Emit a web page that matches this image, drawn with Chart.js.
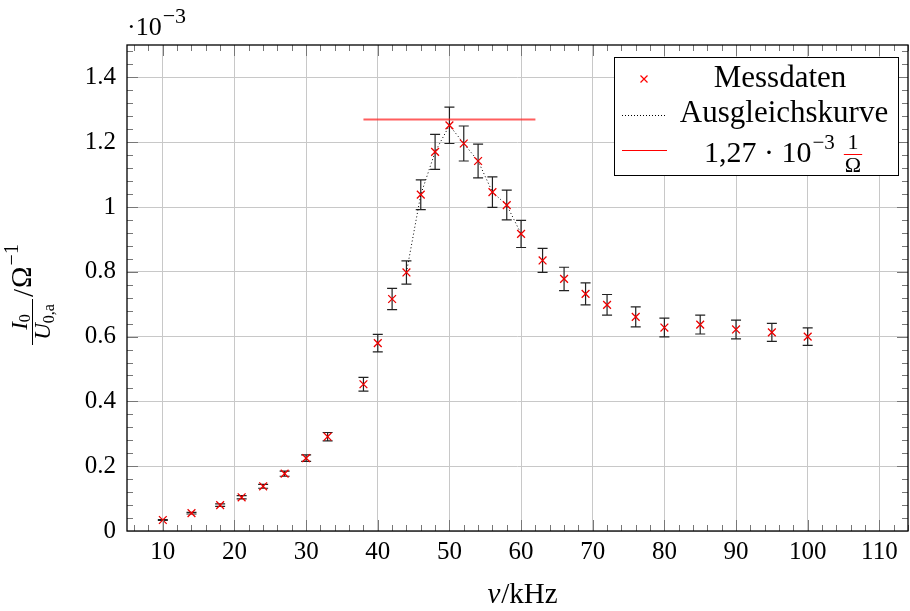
<!DOCTYPE html>
<html>
<head>
<meta charset="UTF-8">
<title>Resonanzkurve</title>
<script src="https://cdn.jsdelivr.net/npm/chart.js"></script>
<style>
    body { margin: 0; background: #fff; }
    #chart { display: block; }
</style>
</head>
<body>
<canvas id="chart" width="910" height="611"></canvas>
<script>
    // Messwerte (Strom in 10^-3 1/Ohm)
    const frequencies = [10, 14, 18, 21, 24, 27, 30, 33, 38, 40, 42, 44, 46, 48, 50, 52, 54, 56, 58, 60, 63, 66, 69, 72, 76, 80, 85, 90, 95, 100];
    const currents = [0.034, 0.055, 0.080, 0.104, 0.138, 0.177, 0.225, 0.291, 0.453, 0.580, 0.716, 0.798, 1.038, 1.170, 1.252, 1.196, 1.142, 1.046, 1.006, 0.917, 0.835, 0.778, 0.732, 0.698, 0.661, 0.628, 0.637, 0.622, 0.613, 0.600];
    const currentErrors = [0.0015, 0.0025, 0.004, 0.005, 0.006, 0.008, 0.010, 0.013, 0.021, 0.027, 0.033, 0.036, 0.046, 0.054, 0.056, 0.054, 0.052, 0.047, 0.046, 0.042, 0.037, 0.036, 0.034, 0.032, 0.031, 0.029, 0.029, 0.029, 0.028, 0.027];

    // Ausgleichskurve
    const fitFrequencies = [44, 46, 48, 50, 52, 54, 56, 58, 60];
    const fitCurrents = [0.798, 1.038, 1.170, 1.252, 1.196, 1.142, 1.046, 1.006, 0.917];

    // Maximum-Linie
    const maxFrequencies = [38, 62];
    const maxCurrents = [1.27, 1.27];

    const xTicks = [10, 20, 30, 40, 50, 60, 70, 80, 90, 100, 110];
    const yTicks = [0, 0.2, 0.4, 0.6, 0.8, 1.0, 1.2, 1.4];

    const SERIF = '"Liberation Serif", "Times New Roman", serif';
    const f = (size, style) => (style ? style + ' ' : '') + size + 'px ' + SERIF;

    function text(ctx, t, x, y, font, align) {
        ctx.font = font;
        ctx.textAlign = align || 'left';
        ctx.textBaseline = 'alphabetic';
        ctx.fillText(t, x, y);
        return ctx.measureText(t).width;
    }
    function width(ctx, t, font) {
        ctx.font = font;
        return ctx.measureText(t).width;
    }

    const errorBars = {
        id: 'errorBars',
        beforeDatasetsDraw(chart) {
            const ctx = chart.ctx, xs = chart.scales.x, ys = chart.scales.y;
            ctx.save();
            ctx.strokeStyle = '#222';
            ctx.lineWidth = 1.2;
            frequencies.forEach((fr, i) => {
                const px = xs.getPixelForValue(fr);
                const top = ys.getPixelForValue(currents[i] + currentErrors[i]);
                const bot = ys.getPixelForValue(currents[i] - currentErrors[i]);
                ctx.beginPath();
                ctx.moveTo(px, top); ctx.lineTo(px, bot);
                ctx.moveTo(px - 5, top); ctx.lineTo(px + 5, top);
                ctx.moveTo(px - 5, bot); ctx.lineTo(px + 5, bot);
                ctx.stroke();
            });
            ctx.restore();
        }
    };

    const frameAndTicks = {
        id: 'frameAndTicks',
        afterDatasetsDraw(chart) {
            const ctx = chart.ctx, a = chart.chartArea, xs = chart.scales.x, ys = chart.scales.y;
            ctx.save();
            ctx.lineWidth = 1;
            // kleine Striche innen, alle vier Seiten
            ctx.strokeStyle = '#777';
            ctx.beginPath();
            for (let v = 6; v <= 114; v += 2) {
                const px = Math.round(xs.getPixelForValue(v)) + 0.5;
                const len = v % 10 === 0 ? 11 : 6;
                ctx.moveTo(px, a.bottom); ctx.lineTo(px, a.bottom - len);
                ctx.moveTo(px, a.top); ctx.lineTo(px, a.top + len);
            }
            for (let k = 1; k <= 37; k++) {
                const v = k * 0.04;
                const py = Math.round(ys.getPixelForValue(v)) + 0.5;
                const len = k % 5 === 0 ? 11 : 6;
                ctx.moveTo(a.left, py); ctx.lineTo(a.left + len, py);
                ctx.moveTo(a.right, py); ctx.lineTo(a.right - len, py);
            }
            ctx.stroke();
            ctx.strokeStyle = '#000';
            ctx.lineWidth = 1.3;
            ctx.strokeRect(a.left, a.top, a.right - a.left, a.bottom - a.top);
            ctx.restore();
        },
        afterDraw(chart) {
            const ctx = chart.ctx;
            ctx.save();
            ctx.fillStyle = '#000';

            // Faktor oben links
            let x = 127;
            x += text(ctx, '\u00b710', x, 35, f(26));
            text(ctx, '\u22123', x + 1, 23, f(22));

            // x-Achsenbeschriftung
            const wNu = width(ctx, '\u03bd', f(29, 'italic'));
            const wRest = width(ctx, '/kHz', f(29));
            let sx = 522 - (wNu + wRest) / 2;
            sx += text(ctx, '\u03bd', sx, 603, f(29, 'italic'));
            text(ctx, '/kHz', sx + 1, 603, f(29));

            // y-Achsenbeschriftung (gedreht)
            ctx.rotate(-Math.PI / 2);
            // Bildschirm (sx, sy) -> gedreht (-sy, sx)
            const fracBottom = 345, fracTop = 299;
            const fracMid = (fracBottom + fracTop) / 2;
            const wI = width(ctx, 'I', f(23, 'italic')), w0 = width(ctx, '0', f(16));
            let r = -fracMid - (wI + w0) / 2;
            r += text(ctx, 'I', r, 27, f(23, 'italic'));
            text(ctx, '0', r, 30, f(16));
            const wU = width(ctx, 'U', f(23, 'italic')), wSub = width(ctx, '0,a', f(16));
            r = -fracMid - (wU + wSub) / 2;
            r += text(ctx, 'U', r, 50, f(23, 'italic'));
            text(ctx, '0,a', r, 54, f(16));
            ctx.lineWidth = 1;
            ctx.beginPath();
            ctx.moveTo(-fracBottom, 32.5); ctx.lineTo(-fracTop, 32.5);
            ctx.stroke();
            r = -fracTop + 2;
            r += text(ctx, '/', r, 33, f(29));
            r += text(ctx, '\u03a9', r + 1, 31, f(29)) + 1;
            text(ctx, '\u22121', r + 1, 18, f(20));
            ctx.setTransform(1, 0, 0, 1, 0, 0);

            // Legende
            ctx.fillStyle = '#fff';
            ctx.fillRect(614, 57, 285, 119);
            ctx.strokeStyle = '#000';
            ctx.lineWidth = 1;
            ctx.strokeRect(614.5, 57.5, 284, 118);

            ctx.strokeStyle = 'red';
            ctx.lineWidth = 1.2;
            ctx.beginPath();
            ctx.moveTo(640.5, 75.5); ctx.lineTo(647.5, 82.5);
            ctx.moveTo(647.5, 75.5); ctx.lineTo(640.5, 82.5);
            ctx.stroke();

            ctx.strokeStyle = '#000';
            ctx.lineWidth = 1;
            ctx.setLineDash([1, 2]);
            ctx.beginPath();
            ctx.moveTo(622, 115.5); ctx.lineTo(667, 115.5);
            ctx.stroke();
            ctx.setLineDash([]);

            ctx.strokeStyle = 'red';
            ctx.beginPath();
            ctx.moveTo(622, 150.5); ctx.lineTo(667, 150.5);
            ctx.stroke();

            ctx.fillStyle = '#000';
            text(ctx, 'Messdaten', 780, 87, f(31), 'center');
            text(ctx, 'Ausgleichskurve', 784, 122, f(31), 'center');
            let lx = 704;
            lx += text(ctx, '1,27 \u00b7 10', lx, 162, f(30));
            lx += text(ctx, '\u22123', lx + 1, 149, f(21)) + 10;
            const w1 = width(ctx, '1', f(22)), wO = width(ctx, '\u03a9', f(22));
            const wf = Math.max(w1, wO) + 2;
            text(ctx, '1', lx + wf / 2, 149, f(22), 'center');
            text(ctx, '\u03a9', lx + wf / 2, 172, f(22), 'center');
            ctx.lineWidth = 1;
            ctx.beginPath();
            ctx.moveTo(lx, 154.5); ctx.lineTo(lx + wf, 154.5);
            ctx.stroke();
            ctx.restore();
        }
    };

    new Chart(document.getElementById('chart'), {
        type: 'scatter',
        data: {
            datasets: [{
                label: 'Messdaten',
                data: frequencies.map((fr, i) => ({ x: fr, y: currents[i] })),
                pointStyle: 'crossRot',
                pointRadius: 5.5,
                pointBorderWidth: 1.3,
                borderColor: '#e00',
                backgroundColor: '#e00',
                showLine: false
            }, {
                label: 'Ausgleichskurve',
                data: fitFrequencies.map((fr, i) => ({ x: fr, y: fitCurrents[i] })),
                showLine: true,
                pointRadius: 0,
                borderColor: '#000',
                borderWidth: 1,
                borderDash: [1, 2.5]
            }, {
                label: '1,27 \u00b7 10\u207b\u00b3 1/\u03a9',
                data: maxFrequencies.map((fr, i) => ({ x: fr, y: maxCurrents[i] })),
                showLine: true,
                pointRadius: 0,
                borderColor: 'rgba(255, 40, 40, 0.75)',
                borderWidth: 1.8
            }]
        },
        options: {
            responsive: false,
            animation: false,
            layout: { autoPadding: false, padding: { left: 0, right: 2, top: 45, bottom: 0 } },
            plugins: { legend: { display: false }, tooltip: { enabled: false } },
            scales: {
                x: {
                    type: 'linear',
                    min: 5,
                    max: 114,
                    afterBuildTicks: s => { s.ticks = xTicks.map(v => ({ value: v })); },
                    afterFit: s => { s.height = 80; },
                    grid: { color: '#c8c8c8', lineWidth: 1, drawTicks: false },
                    border: { display: false },
                    ticks: {
                        padding: 6,
                        color: '#000',
                        font: { family: SERIF, size: 25 },
                        maxRotation: 0,
                        autoSkip: false
                    }
                },
                y: {
                    type: 'linear',
                    min: 0,
                    max: 1.5,
                    afterBuildTicks: s => { s.ticks = yTicks.map(v => ({ value: v })); },
                    afterFit: s => { s.width = 127; },
                    grid: { color: '#c8c8c8', lineWidth: 1, drawTicks: false },
                    border: { display: false },
                    ticks: {
                        padding: 11,
                        color: '#000',
                        font: { family: SERIF, size: 25 },
                        callback: v => String(+v.toFixed(1))
                    }
                }
            }
        },
        plugins: [errorBars, frameAndTicks]
    });
</script>
</body>
</html>
